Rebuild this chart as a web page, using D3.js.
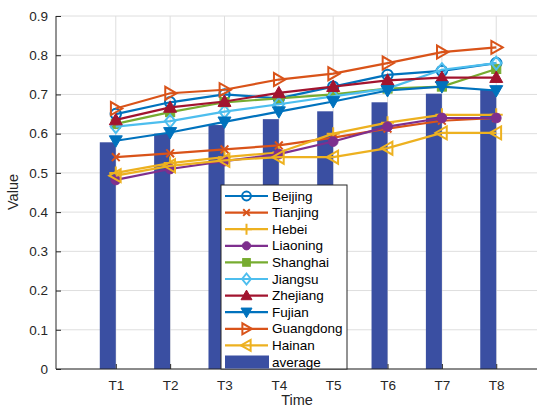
<!DOCTYPE html>
<html><head><meta charset="utf-8">
<script src="https://cdn.jsdelivr.net/npm/d3@7"></script>
<style>body{margin:0;background:#fff}svg{display:block}text{font-family:"Liberation Sans",Arial,sans-serif}</style>
</head><body><svg id="c" width="537" height="410"></svg>
<script>
const categories = ["T1","T2","T3","T4","T5","T6","T7","T8"];
const yTicks = [0,0.1,0.2,0.3,0.4,0.5,0.6,0.7,0.8,0.9];
const average   = [0.578,0.600,0.622,0.637,0.657,0.680,0.702,0.712];
const beijing   = [0.650,0.680,0.700,0.690,0.720,0.750,0.760,0.780];
const tianjing  = [0.540,0.550,0.560,0.570,0.590,0.613,0.633,0.640];
const hebei     = [0.500,0.525,0.540,0.552,0.600,0.628,0.648,0.648];
const liaoning  = [0.482,0.510,0.530,0.548,0.580,0.618,0.640,0.640];
const shanghai  = [0.625,0.655,0.680,0.690,0.700,0.715,0.720,0.765];
const jiangsu   = [0.618,0.632,0.656,0.675,0.695,0.715,0.763,0.780];
const zhejiang  = [0.635,0.667,0.682,0.704,0.720,0.736,0.743,0.743];
const fujian    = [0.582,0.603,0.630,0.656,0.682,0.710,0.720,0.710];
const guangdong = [0.664,0.703,0.712,0.738,0.753,0.780,0.808,0.820];
const hainan    = [0.493,0.518,0.532,0.540,0.540,0.563,0.602,0.602];

const series = [
  {name:"Beijing",  v:beijing,  c:"#0072BD", m:"circleOpen"},
  {name:"Tianjing", v:tianjing, c:"#D95319", m:"x"},
  {name:"Hebei",    v:hebei,    c:"#EDB120", m:"plus"},
  {name:"Liaoning", v:liaoning, c:"#7E2F8E", m:"circle"},
  {name:"Shanghai", v:shanghai, c:"#77AC30", m:"square"},
  {name:"Jiangsu",  v:jiangsu,  c:"#4DBEEE", m:"diamond"},
  {name:"Zhejiang", v:zhejiang, c:"#A2142F", m:"triUp"},
  {name:"Fujian",   v:fujian,   c:"#0072BD", m:"triDown"},
  {name:"Guangdong",v:guangdong,c:"#D95319", m:"triRight"},
  {name:"Hainan",   v:hainan,   c:"#EDB120", m:"triLeft"}
];
const barColor = "#3a4fa2";

const svg = d3.select("#c");
const L=56, R=537, T=16, B=369;
const x = d3.scaleLinear().domain([-0.1, 8.75]).range([L, R]);
const y = d3.scaleLinear().domain([0, 0.9]).range([B, T]);
const xi = i => x(i+1);

// grid
const g = svg.append("g");
g.selectAll(".hg").data(yTicks).enter().append("line")
  .attr("x1",L).attr("x2",R).attr("y1",d=>y(d)).attr("y2",d=>y(d))
  .attr("stroke","#dedede").attr("stroke-width",1);
g.selectAll(".vg").data(categories).enter().append("line")
  .attr("x1",(d,i)=>xi(i)).attr("x2",(d,i)=>xi(i)).attr("y1",T).attr("y2",B)
  .attr("stroke","#dedede").attr("stroke-width",1);

// bars
const bw = 16;
svg.append("g").selectAll("rect").data(average).enter().append("rect")
  .attr("x",(d,i)=>xi(i)-bw).attr("width",bw)
  .attr("y",d=>y(d)).attr("height",d=>B-y(d))
  .attr("fill",barColor);

function marker(sel, type, c, s){
  const h = s/2;
  switch(type){
    case "circleOpen": sel.append("circle").attr("r",h*0.8).attr("fill","none").attr("stroke",c).attr("stroke-width",2); break;
    case "circle": sel.append("circle").attr("r",h*0.75).attr("fill",c).attr("stroke",c); break;
    case "x": sel.append("path").attr("d",`M${-h*0.6},${-h*0.6}L${h*0.6},${h*0.6}M${-h*0.6},${h*0.6}L${h*0.6},${-h*0.6}`).attr("stroke",c).attr("stroke-width",2); break;
    case "plus": sel.append("path").attr("d",`M${-h},0L${h},0M0,${-h}L0,${h}`).attr("stroke",c).attr("stroke-width",2); break;
    case "square": sel.append("rect").attr("x",-h*0.7).attr("y",-h*0.7).attr("width",h*1.4).attr("height",h*1.4).attr("fill",c).attr("stroke",c); break;
    case "diamond": sel.append("path").attr("d",`M0,${-h}L${h*0.8},0L0,${h}L${-h*0.8},0Z`).attr("fill","none").attr("stroke",c).attr("stroke-width",2); break;
    case "triUp": sel.append("path").attr("d",`M0,${-h}L${h},${h*0.75}L${-h},${h*0.75}Z`).attr("fill",c).attr("stroke",c); break;
    case "triDown": sel.append("path").attr("d",`M0,${h}L${h},${-h*0.75}L${-h},${-h*0.75}Z`).attr("fill",c).attr("stroke",c); break;
    case "triRight": sel.append("path").attr("d",`M${h},0L${-h*0.75},${-h}L${-h*0.75},${h}Z`).attr("fill","none").attr("stroke",c).attr("stroke-width",2); break;
    case "triLeft": sel.append("path").attr("d",`M${-h},0L${h*0.75},${-h}L${h*0.75},${h}Z`).attr("fill","none").attr("stroke",c).attr("stroke-width",2); break;
  }
}

// lines
const line = d3.line().x((d,i)=>xi(i)).y(d=>y(d));
const lg = svg.append("g");
series.forEach(s=>{
  lg.append("path").datum(s.v).attr("d",line).attr("fill","none")
    .attr("stroke",s.c).attr("stroke-width",2.2);
  s.v.forEach((v,i)=>{
    const m = lg.append("g").attr("transform",`translate(${xi(i)},${y(v)})`);
    marker(m, s.m, s.c, 13);
  });
});

// axes
const axisColor = "#262626";
const yAxis = d3.axisLeft(y).tickValues(yTicks).tickFormat(d=>d===0?"0":d3.format(".1f")(d)).tickSizeInner(-5).tickSizeOuter(0).tickPadding(8);
const ya = svg.append("g").attr("transform",`translate(${L},0)`).call(yAxis);
const xAxis = d3.axisBottom(x).tickValues(d3.range(1,9)).tickFormat(d=>categories[d-1]).tickSizeInner(-5).tickSizeOuter(0).tickPadding(11);
const xa = svg.append("g").attr("transform",`translate(0,${B})`).call(xAxis);
[ya,xa].forEach(a=>{
  a.select(".domain").attr("stroke",axisColor).attr("stroke-width",1);
  a.selectAll(".tick line").attr("stroke",axisColor);
  a.selectAll("text").attr("fill",axisColor).style("font-size","13.5px").style("font-family","'Liberation Sans',Arial,sans-serif");
});
xa.select(".domain").attr("d",`M${L},0H${R}`);
ya.select(".domain").attr("d",`M0,${B}V${T}`);

svg.append("text").attr("x",297).attr("y",405).attr("text-anchor","middle")
  .attr("fill",axisColor).style("font-size","14.5px").text("Time");
svg.append("text").attr("transform","translate(18,192) rotate(-90)").attr("text-anchor","middle")
  .attr("fill",axisColor).style("font-size","14.5px").text("Value");

// legend
const lgX=221, lgY=185, lgW=126, lgH=184, rowH=16.6;
const leg = svg.append("g");
leg.append("rect").attr("x",lgX).attr("y",lgY).attr("width",lgW).attr("height",lgH)
  .attr("fill","#fff").attr("stroke","#262626").attr("stroke-width",1);
series.forEach((s,i)=>{
  const cy = lgY + 11 + i*rowH;
  leg.append("line").attr("x1",lgX+4).attr("x2",lgX+47).attr("y1",cy).attr("y2",cy)
    .attr("stroke",s.c).attr("stroke-width",2.2);
  const m = leg.append("g").attr("transform",`translate(${lgX+25.5},${cy})`);
  marker(m, s.m, s.c, 11);
  leg.append("text").attr("x",lgX+51).attr("y",cy+4.5).attr("fill","#000").style("font-size","13.5px").text(s.name);
});
{
  const cy = lgY + 11 + 10*rowH;
  leg.append("rect").attr("x",lgX+4).attr("y",cy-6.5).attr("width",44).attr("height",13).attr("fill",barColor);
  leg.append("text").attr("x",lgX+51).attr("y",cy+4.5).attr("fill","#000").style("font-size","13.5px").text("average");
}
</script></body></html>
